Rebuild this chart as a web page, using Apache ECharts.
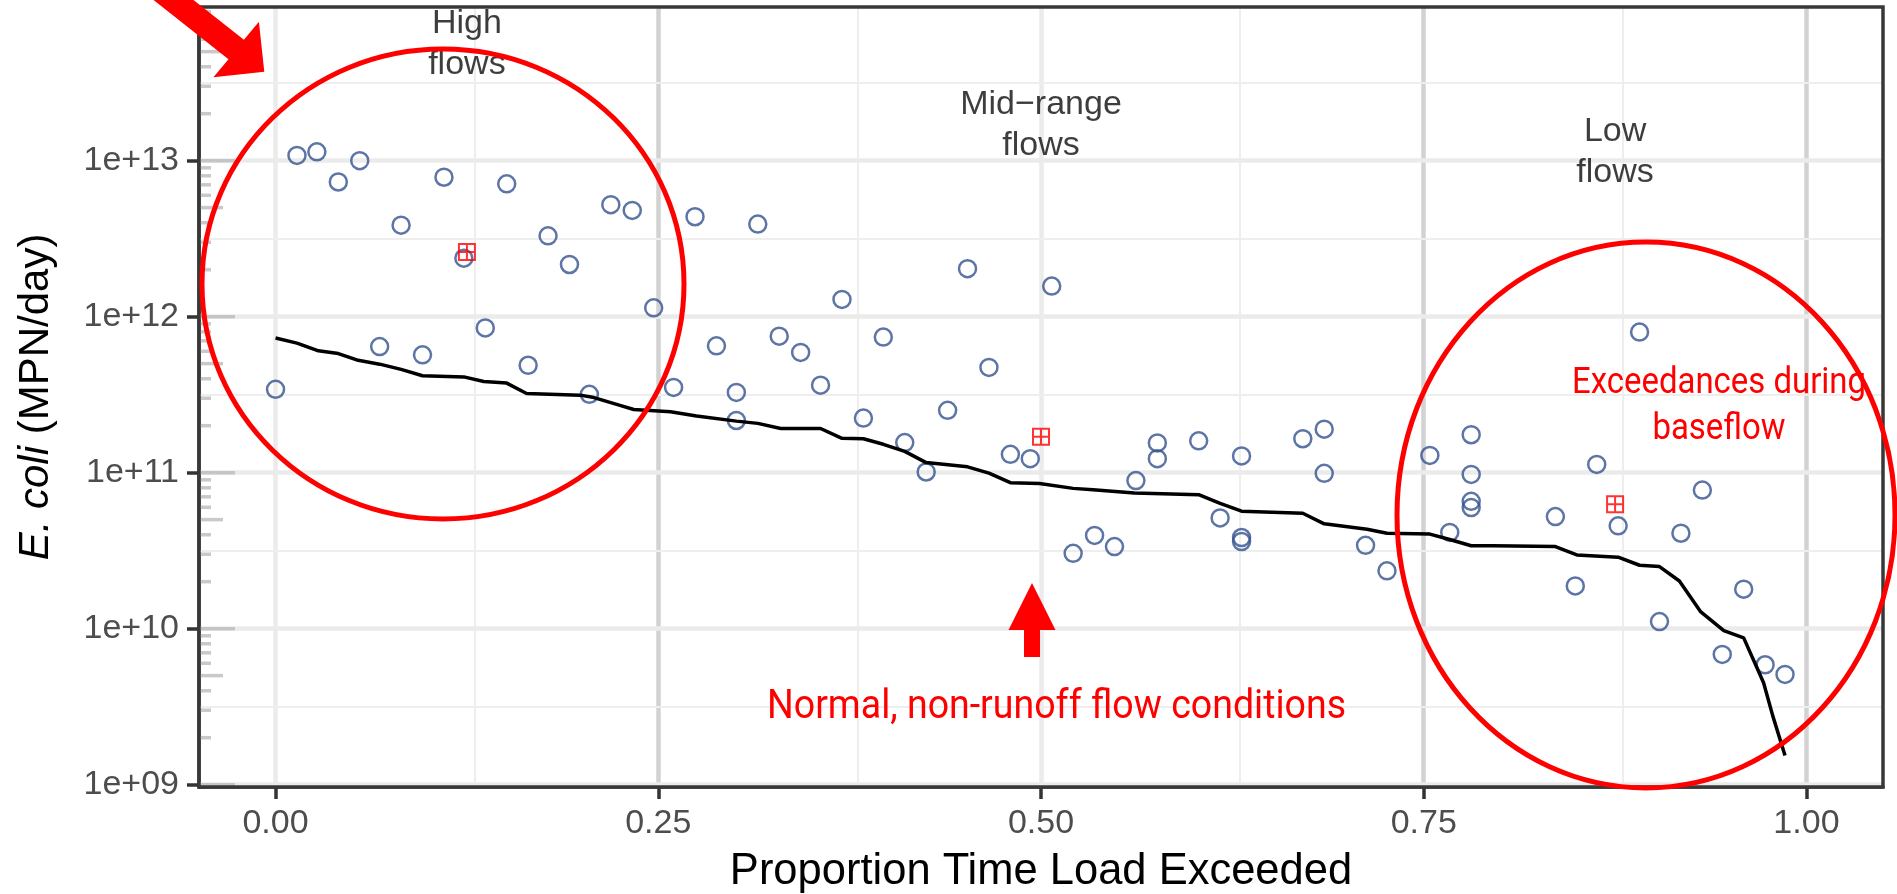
<!DOCTYPE html>
<html>
<head>
<meta charset="utf-8">
<script src="https://cdn.jsdelivr.net/npm/echarts@6/dist/echarts.min.js"></script>
<style>
html,body{margin:0;padding:0;background:#fff;}
#c{width:1897px;height:894px;}
</style>
</head>
<body>
<div id="c"></div>
<script>
// ---------- axis ticks ----------
const xTickValues = [0, 0.25, 0.5, 0.75, 1];
const xTickLabels = ['0.00', '0.25', '0.50', '0.75', '1.00'];
const xMinorValues = [0.125, 0.375, 0.625, 0.875];
const yTickValues = [1e9, 1e10, 1e11, 1e12, 1e13];
const yTickLabels = ['1e+09', '1e+10', '1e+11', '1e+12', '1e+13'];
const yMinorValues = [3.1623e9, 3.1623e10, 3.1623e11, 3.1623e12, 3.1623e13];
const logTickDecades = [1e9, 1e10, 1e11, 1e12, 1e13];
const logTickMultipliers = [1, 2, 3, 4, 5, 6, 7, 8, 9];

// ---------- observed samples (E. coli load, MPN/day) ----------
const sampleX = [
  0.000, 0.014, 0.027, 0.041, 0.055, 0.068, 0.082, 0.096, 0.110, 0.123, 0.137, 0.151, 0.165, 0.178, 0.192, 0.205, 0.219,
  0.233, 0.247, 0.260, 0.274, 0.288, 0.301, 0.301, 0.315, 0.329, 0.343, 0.356, 0.370, 0.384, 0.397, 0.411, 0.425, 0.439, 0.452, 0.466, 0.480, 0.493, 0.507,
  0.521, 0.535, 0.548, 0.562, 0.576, 0.576, 0.603, 0.617, 0.631, 0.631, 0.631, 0.671, 0.685, 0.685, 0.712, 0.726, 0.754, 0.767,
  0.781, 0.781, 0.781, 0.781, 0.836, 0.849, 0.863, 0.877, 0.891, 0.904, 0.918, 0.932, 0.945, 0.959, 0.973, 0.986
];
const sampleY = [
  3.42e11, 1.08e13, 1.14e13, 7.3e12, 1.0e13, 6.43e11, 3.86e12, 5.69e11, 7.83e12, 2.37e12, 8.47e11, 7.1e12, 4.88e11, 3.3e12, 2.16e12, 3.18e11, 5.22e12,
  4.8e12, 1.14e12, 3.52e11, 4.37e12, 6.5e11, 3.27e11, 2.16e11, 3.92e12, 7.5e11, 5.9e11, 3.64e11, 1.29e12, 2.24e11, 7.4e11, 1.56e11, 1.01e11, 2.51e11, 2.03e12, 4.73e11, 1.31e11, 1.23e11, 1.57e12,
  3.04e10, 3.96e10, 3.36e10, 8.9e10, 1.55e11, 1.23e11, 1.6e11, 5.13e10, 1.28e11, 3.84e10, 3.62e10, 1.65e11, 1.9e11, 9.9e10, 3.42e10, 2.35e10, 1.29e11, 4.14e10,
  1.75e11, 9.75e10, 6.55e10, 5.97e10, 5.23e10, 1.88e10, 1.13e11, 4.56e10, 7.96e11, 1.11e10, 4.09e10, 7.73e10, 6.84e9, 1.79e10, 5.87e9, 5.09e9
];

// ---------- load duration curve ----------
const curveX = [
  0.000, 0.014, 0.028, 0.041, 0.054, 0.068, 0.082, 0.096, 0.123, 0.136, 0.151, 0.164, 0.199, 0.208, 0.225, 0.234, 0.258, 0.275,
  0.301, 0.315, 0.330, 0.356, 0.370, 0.384, 0.397, 0.411, 0.425, 0.452, 0.466, 0.480, 0.499, 0.521, 0.534, 0.561, 0.603, 0.617,
  0.631, 0.671, 0.685, 0.713, 0.726, 0.754, 0.767, 0.781, 0.795, 0.836, 0.850, 0.877, 0.891, 0.904, 0.917, 0.931, 0.946, 0.959,
  0.972, 0.978, 0.986
];
const curveY = [
  7.3e11, 6.77e11, 6.04e11, 5.8e11, 5.25e11, 4.96e11, 4.59e11, 4.18e11, 4.11e11, 3.84e11, 3.75e11, 3.22e11, 3.14e11, 3.03e11, 2.7e11, 2.54e11, 2.46e11, 2.31e11,
  2.14e11, 2.07e11, 1.92e11, 1.92e11, 1.66e11, 1.65e11, 1.52e11, 1.37e11, 1.16e11, 1.09e11, 9.93e10, 8.63e10, 8.53e10, 7.93e10, 7.77e10, 7.4e10, 7.22e10, 6.35e10,
  5.66e10, 5.49e10, 4.7e10, 4.34e10, 4.09e10, 4.04e10, 3.73e10, 3.4e10, 3.4e10, 3.36e10, 2.97e10, 2.87e10, 2.55e10, 2.5e10, 2.02e10, 1.28e10, 9.7e9, 8.73e9,
  4.5e9, 2.76e9, 1.54e9
];

// ---------- regime summary marks & labels ----------
const regimeMarkX = [0.125, 0.5, 0.875];
const regimeMarkY = [2.6e12, 1.7e11, 6.27e10];
const regimeLabels = ['High\nflows', 'Mid\u2212range\nflows', 'Low\nflows'];
const regimeLabelX = [0.125, 0.5, 0.875];
const regimeLabelY = [5.6e13, 1.69e13, 1.14e13];

// ---------- annotation texts ----------
const noteNormal = 'Normal, non-runoff flow conditions';
const noteBase1 = 'Exceedances during';
const noteBase2 = 'baseflow';

// ================= build =================
const X_MIN = -0.05, X_MAX = 1.05;
const Y_MIN = Math.pow(10, 8.985), Y_MAX = Math.pow(10, 13.985);

function xLabel(v) {
  for (let i = 0; i < xTickValues.length; i++) if (Math.abs(v - xTickValues[i]) < 1e-6) return xTickLabels[i];
  return '';
}
function yLabel(v) {
  const lv = Math.log10(v);
  for (let i = 0; i < yTickValues.length; i++) if (Math.abs(lv - Math.log10(yTickValues[i])) < 1e-4) return yTickLabels[i];
  return '';
}

const majorXColor = ['#ebebeb', '#d2d2d2', '#ebebeb', '#d2d2d2', '#d2d2d2'];
const gridLines = [];
xTickValues.forEach((v, i) => gridLines.push({xAxis: v, lineStyle: {color: majorXColor[i], width: 4.5, type: 'solid'}}));
xMinorValues.forEach(v => gridLines.push({xAxis: v, lineStyle: {color: '#eeeeee', width: 2, type: 'solid'}}));
yTickValues.forEach(v => gridLines.push({yAxis: v, lineStyle: {color: '#ebebeb', width: 4.5, type: 'solid'}}));
yMinorValues.forEach(v => gridLines.push({yAxis: v, lineStyle: {color: '#eeeeee', width: 2, type: 'solid'}}));

const logTickData = [];
logTickDecades.forEach(d => logTickMultipliers.forEach(m => {
  const v = m * d;
  if (v <= Y_MAX && v >= Y_MIN) {
    const len = m === 1 ? 36 : (m === 5 ? 24 : 12);
    logTickData.push({value: [X_MIN, v], symbolSize: [len, 3.5], symbolOffset: [len / 2, 0]});
  }
}));

function fitScale(text, font, target) {
  const ctx = document.createElement('canvas').getContext('2d');
  ctx.font = font;
  return target / ctx.measureText(text).width;
}
const fontNormal = '40px Roboto';
const sNormal = fitScale(noteNormal, fontNormal, 579);
const fontBase = '36px Roboto';
const sBase = fitScale(noteBase1, fontBase, 294);

const FONT = 'Liberation Sans';

const option = {
  animation: false,
  backgroundColor: '#ffffff',
  grid: {left: 199, right: 14, top: 7, bottom: 107, containLabel: false, outerBoundsMode: 'none', show: false},
  xAxis: {
    type: 'value', min: X_MIN, max: X_MAX,
    axisLine: {show: true, onZero: false, lineStyle: {color: '#333333', width: 3.5}},
    axisTick: {show: true, length: 12, customValues: xTickValues, lineStyle: {color: '#333333', width: 3.5}},
    axisLabel: {show: true, customValues: xTickValues, margin: 20, fontSize: 34, color: '#4d4d4d', fontFamily: FONT, formatter: xLabel},
    splitLine: {show: false},
    name: 'Proportion Time Load Exceeded', nameLocation: 'middle', nameGap: 63,
    nameTextStyle: {fontSize: 43.5, color: '#000000', fontFamily: FONT}
  },
  yAxis: {
    type: 'log', logBase: 10, min: Y_MIN, max: Y_MAX,
    axisLine: {show: true, onZero: false, lineStyle: {color: '#333333', width: 3.5}},
    axisTick: {show: true, length: 12, customValues: yTickValues, lineStyle: {color: '#333333', width: 3.5}},
    axisLabel: {show: true, customValues: yTickValues, margin: 20, fontSize: 34, color: '#4d4d4d', fontFamily: FONT, formatter: yLabel},
    splitLine: {show: false},
    minorTick: {show: false}, minorSplitLine: {show: false},
    name: '{i|E. coli} (MPN/day)', nameLocation: 'middle', nameGap: 142, nameRotate: 90,
    nameTextStyle: {fontSize: 42, color: '#000000', fontFamily: FONT,
      rich: {i: {fontStyle: 'italic', fontSize: 42, color: '#000000', fontFamily: FONT}}}
  },
  series: [
    {
      name: 'logticks', type: 'scatter', z: 3, silent: true, clip: false,
      symbol: 'rect', itemStyle: {color: '#bcbcbc'},
      data: logTickData,
      markLine: {silent: true, z: 1, symbol: ['none', 'none'], label: {show: false}, animation: false,
        emphasis: {disabled: true}, data: gridLines}
    },
    {
      name: 'samples', type: 'scatter', z: 4, silent: true,
      symbol: 'circle', symbolSize: 17,
      itemStyle: {color: 'rgba(0,0,0,0)', borderColor: '#34528f', borderWidth: 2.5},
      data: sampleX.map((x, i) => [x, sampleY[i]])
    },
    {
      name: 'curve', type: 'line', z: 5, silent: true, symbol: 'none', showSymbol: false,
      lineStyle: {color: '#000000', width: 3.5}, itemStyle: {color: '#000000'},
      data: curveX.map((x, i) => [x, curveY[i]])
    },
    {
      name: 'regime', type: 'scatter', z: 6, silent: true,
      symbol: 'path://M0,0L10,0L10,10L0,10Z M5,0L5,10 M0,5L10,5', symbolSize: 16,
      itemStyle: {color: 'rgba(0,0,0,0)', borderColor: '#ff0000', borderWidth: 2},
      data: regimeMarkX.map((x, i) => [x, regimeMarkY[i]])
    },
    {
      name: 'regimeLabels', type: 'scatter', z: 7, silent: true, clip: false,
      symbolSize: 1, itemStyle: {color: 'rgba(0,0,0,0)'},
      label: {show: true, position: 'inside', fontSize: 34, lineHeight: 41, color: '#0d0d0d', fontFamily: FONT, align: 'center', verticalAlign: 'middle'},
      data: regimeLabelX.map((x, i) => ({value: [x, regimeLabelY[i]], label: {formatter: regimeLabels[i]}}))
    }
  ],
  graphic: [
    {type: 'rect', z: 50, silent: true, shape: {x: 199, y: 7, width: 1684, height: 780},
      style: {fill: 'none', stroke: '#383838', lineWidth: 3.5}},
    {type: 'ellipse', z: 100, silent: true, shape: {cx: 443, cy: 284, rx: 241, ry: 235},
      style: {fill: 'none', stroke: '#ff0000', lineWidth: 5}},
    {type: 'ellipse', z: 100, silent: true, shape: {cx: 1646, cy: 515, rx: 249, ry: 273},
      style: {fill: 'none', stroke: '#ff0000', lineWidth: 5}},
    {type: 'polygon', z: 100, silent: true,
      shape: {points: [[71.5, -64.8], [228.5, 59.2], [213.4, 77.3], [264.3, 71.7], [258.9, 21.7], [243.9, 39.8], [86.9, -84.2]]},
      style: {fill: '#ff0000'}},
    {type: 'polygon', z: 100, silent: true,
      shape: {points: [[1032, 583], [1055.5, 630], [1040, 630], [1040, 657], [1024, 657], [1024, 630], [1008.5, 630]]},
      style: {fill: '#ff0000'}},
    {type: 'text', z: 100, silent: true, x: 767, y: 708, scaleX: sNormal,
      style: {text: noteNormal, font: fontNormal, fill: '#ff0000', align: 'left', textAlign: 'left', verticalAlign: 'middle', textVerticalAlign: 'middle'}},
    {type: 'text', z: 100, silent: true, x: 1719, y: 384, scaleX: sBase,
      style: {text: noteBase1, font: fontBase, fill: '#ff0000', align: 'center', textAlign: 'center', verticalAlign: 'middle', textVerticalAlign: 'middle'}},
    {type: 'text', z: 100, silent: true, x: 1719, y: 430, scaleX: sBase,
      style: {text: noteBase2, font: fontBase, fill: '#ff0000', align: 'center', textAlign: 'center', verticalAlign: 'middle', textVerticalAlign: 'middle'}}
  ]
};

const chart = echarts.init(document.getElementById('c'), null, {renderer: 'canvas', width: 1897, height: 894});
chart.setOption(option);
</script>
</body>
</html>
